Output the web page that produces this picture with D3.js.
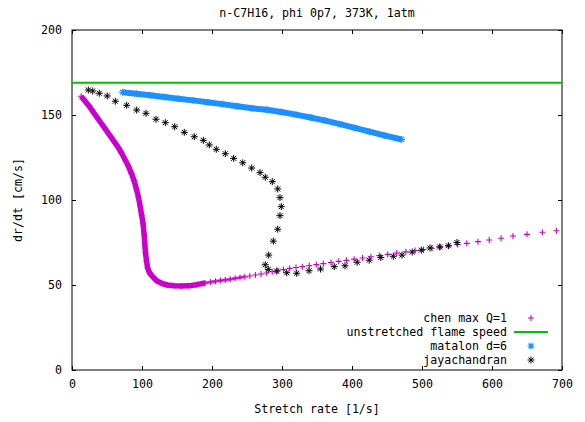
<!DOCTYPE html>
<html>
<head>
<meta charset="utf-8">
<script src="https://cdn.jsdelivr.net/npm/d3@7"></script>
<style>
  body { margin: 0; background: #fff; }
  svg text { font-family: "DejaVu Sans Mono", "Liberation Mono", monospace; font-size: 11.6px; fill: #000; }
</style>
</head>
<body>
<div id="chart"></div>
<script>
// values
var xTicks = [0, 100, 200, 300, 400, 500, 600, 700];
var yTicks = [0, 50, 100, 150, 200];

// chen max Q=1, the part where the + marks run together into a solid band
var chenBandX = [13, 18, 24, 30, 36, 42, 48, 54, 60, 66, 71, 76, 81, 85, 89, 92, 95, 97.5, 99.5, 101.5,
                 103, 104, 105, 106.5, 108, 111, 115, 121, 128, 136, 146, 156, 166, 178, 190];
var chenBandY = [161, 158.5, 155.5, 152, 148.5, 145, 141.5, 138, 134.5, 131, 127.5, 123.5, 119.5, 115.5, 111, 106.5, 101.5, 96, 91, 86,
                 80, 74, 69, 64, 60, 57, 55, 52.5, 51, 50, 49.5, 49.4, 49.5, 50.2, 51.2];
// chen max Q=1, separate + marks
var chenX = [198, 205, 212, 219, 226, 233, 240, 247, 254, 262, 270, 278, 286, 294, 302, 311, 320, 329, 339, 349,
             359, 370, 381, 392, 403, 415, 427, 439, 451, 464, 477, 490, 502, 514, 526, 538, 551, 564, 580, 596,
             613, 630, 650, 672, 692];
var chenY = [51.8, 52.2, 52.6, 53.0, 53.4, 53.9, 54.4, 54.8, 55.3, 55.9, 56.5, 57.1, 57.8, 58.4, 59.1, 59.8, 60.3, 60.8, 61.4, 62.0,
             62.6, 63.2, 63.9, 64.5, 65.2, 65.9, 66.6, 67.3, 68.0, 68.8, 69.5, 70.3, 70.9, 71.6, 72.3, 73.0, 73.8, 74.5, 75.5, 76.5,
             77.5, 78.8, 79.8, 81.0, 81.9];
// below this stretch rate the separate marks still overlap into a thinner band
var chenThinBandEnd = 250;

var unstretchedSpeed = 169;

var matalonX = [72, 92, 112, 132, 152, 173, 194, 215, 236, 257, 278, 299, 320, 341, 362, 383, 404, 425, 446, 471];
var matalonY = [163.4, 162.5, 161.6, 160.6, 159.6, 158.6, 157.5, 156.4, 155.2, 154.0, 153.1, 151.8, 150.2, 148.5, 146.7, 144.6, 142.4, 140.2, 138.0, 135.6];

var jayaX = [23.3, 29.6, 39.0, 50.4, 61.9, 78.1, 92.4, 105.7, 120.0, 133.3, 146.7, 160.4, 174.7, 187.6, 196.1, 206.1, 219.0, 231.0, 243.9, 256.7,
             268.6, 276.1, 286.1, 293.9, 297.1, 299.0, 297.1, 293.9, 287.6, 281.0, 276.1, 280.4, 292.4, 306.7, 321.0, 338.6, 355.0, 374.6, 390.0, 407.4,
             424.6, 441.1, 459.0, 471.4, 486.0, 499.0, 511.4, 525.3, 537.6, 550.0];
var jayaY = [164.7, 164.1, 162.8, 161.2, 158.1, 155.7, 152.9, 151.0, 147.5, 145.5, 143.1, 139.8, 137.2, 135.1, 132.4, 129.8, 127.2, 124.5, 121.9, 118.8,
             116.1, 113.4, 110.8, 106.5, 101.4, 96.1, 90.8, 82.8, 75.8, 67.6, 61.9, 59.2, 58.2, 57.2, 56.9, 58.4, 59.4, 60.8, 61.3, 63.4,
             64.6, 66.2, 66.9, 67.6, 69.4, 70.5, 71.8, 72.4, 73.1, 75.0];

var legendLabels = ["chen max Q=1", "unstretched flame speed", "matalon d=6", "jayachandran"];

function zip(xs, ys) {
  return xs.map(function(v, i) { return [v, ys[i]]; });
}

var plusPath = "M-3,0H3M0,-3V3";
var starPath = "M-3.5,0H3.5M0,-3.5V3.5M-2.5,-2.5L2.5,2.5M-2.5,2.5L2.5,-2.5";

var width = 585;
var height = 422;
var margin = { top: 30, left: 72, right: 23, bottom: 52 };
var plotWidth = width - margin.left - margin.right;
var plotHeight = height - margin.top - margin.bottom;

var svg = d3.select("div#chart")
  .append("svg")
    .attr("width", width)
    .attr("height", height);

var g = svg.append("g")
  .attr("transform", "translate(" + margin.left + "," + margin.top + ")");

var x = d3.scaleLinear()
  .domain([0, 700])
  .range([0, plotWidth]);

var y = d3.scaleLinear()
  .domain([0, 200])
  .range([plotHeight, 0]);

// axes, gnuplot style: ticks pointing in, mirrored on all four sides
g.append("g")
  .attr("transform", "translate(0," + plotHeight + ")")
  .call(d3.axisBottom(x).tickValues(xTicks).tickSizeInner(-4).tickSizeOuter(0).tickPadding(10));
g.append("g")
  .call(d3.axisTop(x).tickValues(xTicks).tickSizeInner(-4).tickSizeOuter(0).tickFormat(""));
g.append("g")
  .call(d3.axisLeft(y).tickValues(yTicks).tickSizeInner(-4).tickSizeOuter(0).tickPadding(10));
g.append("g")
  .attr("transform", "translate(" + plotWidth + ",0)")
  .call(d3.axisRight(y).tickValues(yTicks).tickSizeInner(-4).tickSizeOuter(0).tickFormat(""));
g.selectAll(".domain").remove();

g.append("rect")
  .attr("x", 0)
  .attr("y", 0)
  .attr("width", plotWidth)
  .attr("height", plotHeight)
  .attr("fill", "none")
  .attr("stroke", "#000")
  .attr("stroke-width", 1);

var line = d3.line()
  .x(function(d) { return x(d[0]); })
  .y(function(d) { return y(d[1]); });

// chen max Q=1
var chenColor = "#cc00cc";
var chenBand = zip(chenBandX, chenBandY);
var chenMarks = zip(chenX, chenY);

g.append("path")
  .datum(chenBand.slice(-3).concat(chenMarks.filter(function(d) { return d[0] <= chenThinBandEnd; })))
  .attr("fill", "none")
  .attr("stroke", "#dd44dd")
  .attr("stroke-width", 3)
  .attr("stroke-linejoin", "round")
  .attr("d", line);

g.append("path")
  .datum(chenBand)
  .attr("fill", "none")
  .attr("stroke", chenColor)
  .attr("stroke-width", 5.5)
  .attr("stroke-linejoin", "round")
  .attr("d", line);

g.append("g")
  .selectAll("path")
  .data(chenBand.concat(chenMarks))
  .enter()
  .append("path")
  .attr("transform", function(d) { return "translate(" + x(d[0]) + "," + y(d[1]) + ")"; })
  .attr("d", plusPath)
  .attr("fill", "none")
  .attr("stroke", chenColor)
  .attr("stroke-width", 1.1);

// unstretched flame speed
var greenColor = "#00c000";
g.append("line")
  .attr("x1", x(0))
  .attr("x2", x(700))
  .attr("y1", y(unstretchedSpeed))
  .attr("y2", y(unstretchedSpeed))
  .attr("stroke", greenColor)
  .attr("stroke-width", 2);

// matalon d=6
var blueColor = "#1e90ff";
g.append("path")
  .datum(zip(matalonX, matalonY))
  .attr("fill", "none")
  .attr("stroke", blueColor)
  .attr("stroke-width", 6)
  .attr("d", line);

g.append("g")
  .selectAll("path")
  .data(zip(matalonX, matalonY))
  .enter()
  .append("path")
  .attr("transform", function(d) { return "translate(" + x(d[0]) + "," + y(d[1]) + ")"; })
  .attr("d", starPath)
  .attr("fill", "none")
  .attr("stroke", blueColor)
  .attr("stroke-width", 1.1);

// jayachandran
g.append("g")
  .selectAll("path")
  .data(zip(jayaX, jayaY))
  .enter()
  .append("path")
  .attr("transform", function(d) { return "translate(" + x(d[0]) + "," + y(d[1]) + ")"; })
  .attr("d", starPath)
  .attr("fill", "none")
  .attr("stroke", "#000")
  .attr("stroke-width", 1);

// titles
svg.append("text")
  .attr("x", margin.left + plotWidth / 2)
  .attr("y", 17)
  .attr("text-anchor", "middle")
  .text("n-C7H16, phi 0p7, 373K, 1atm");

svg.append("text")
  .attr("x", margin.left + plotWidth / 2)
  .attr("y", 413)
  .attr("text-anchor", "middle")
  .text("Stretch rate [1/s]");

svg.append("text")
  .attr("transform", "translate(22," + (margin.top + plotHeight / 2) + ") rotate(-90)")
  .attr("text-anchor", "middle")
  .text("dr/dt [cm/s]");

// legend
var legend = svg.append("g");
var legendY = [318, 332, 346, 360];
legendLabels.forEach(function(label, i) {
  legend.append("text")
    .attr("x", 507)
    .attr("y", legendY[i])
    .attr("dy", "0.35em")
    .attr("text-anchor", "end")
    .text(label);
});
legend.append("path")
  .attr("transform", "translate(531," + legendY[0] + ")")
  .attr("d", plusPath)
  .attr("fill", "none")
  .attr("stroke", chenColor)
  .attr("stroke-width", 1.1);
legend.append("line")
  .attr("x1", 514)
  .attr("x2", 548)
  .attr("y1", legendY[1])
  .attr("y2", legendY[1])
  .attr("stroke", greenColor)
  .attr("stroke-width", 2);
legend.append("path")
  .attr("transform", "translate(531," + legendY[2] + ")")
  .attr("d", starPath)
  .attr("fill", "none")
  .attr("stroke", blueColor)
  .attr("stroke-width", 1.1);
legend.append("path")
  .attr("transform", "translate(531," + legendY[3] + ")")
  .attr("d", starPath)
  .attr("fill", "none")
  .attr("stroke", "#000")
  .attr("stroke-width", 1);
</script>
</body>
</html>
